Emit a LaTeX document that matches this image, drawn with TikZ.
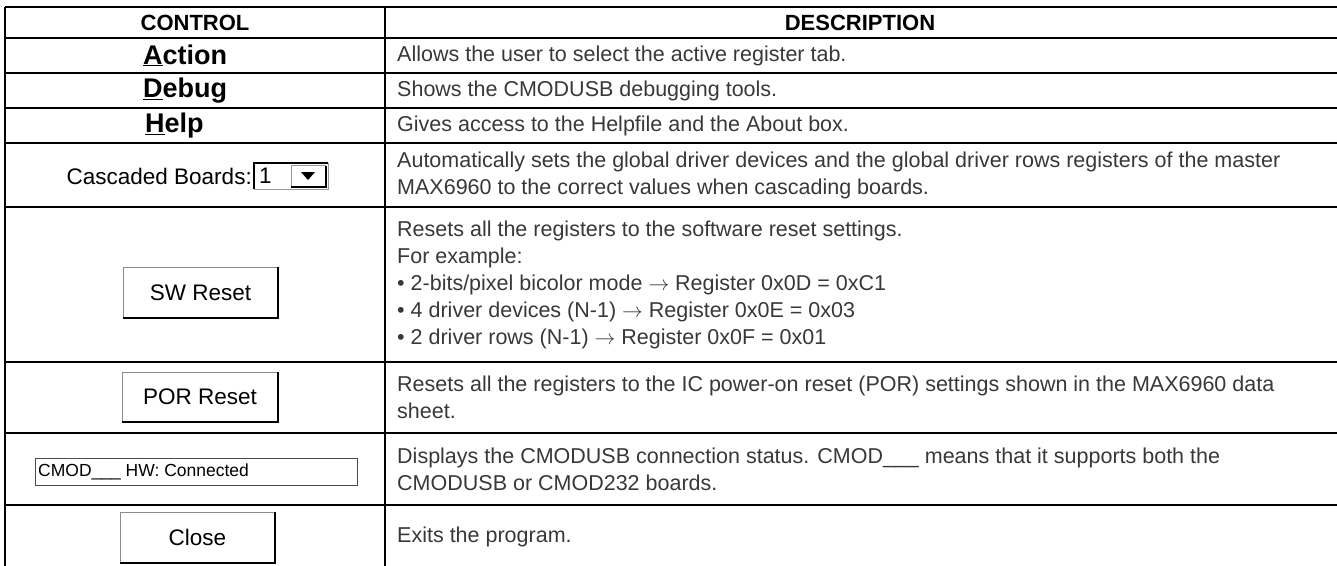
\documentclass[tikz,border=0pt]{standalone}
\usepackage{fontspec}
\setmainfont{Liberation Sans}
\usetikzlibrary{positioning}
\tikzset{
  rule/.style={line width=2.4pt},
  vrule/.style={line width=1.6pt},
  headtext/.style={font=\fontsize{22}{26}\selectfont\bfseries},
  desctext/.style={anchor=west,align=left,text=black!78,
    font=\fontsize{21.5}{27}\selectfont,inner sep=0pt},
  menutext/.style={anchor=west,inner sep=0pt,font=\fontsize{27}{30}\selectfont\bfseries},
  wintext/.style={inner sep=0pt,font=\fontsize{22.5}{26}\selectfont},
}
\newcommand{\winbutton}[5]{% x1 y1 x2 y2 label
  \fill[white] (#1,#2) rectangle (#3,#4);
  \draw[black!45,line width=1pt] (#1,#4) -- (#1,#2) -- (#3,#2);
  \draw[line width=2.2pt] (#1,#4) -- (#3,#4) -- (#3,#2);
  \node[wintext] at ({(#1+#3)/2},{(#2+#4)/2}) {#5};
}
\begin{document}
\begin{tikzpicture}[x=1pt,y=-1pt]
\useasboundingbox (0,0) rectangle (1337,565);
% grid of the table
\draw[vrule] (5,7) -- (5,566);
\draw[vrule] (385,7) -- (385,566);
\foreach \yy in {7,38,73,108,143,207,362,433,505}
  \draw[rule] (5,\yy) -- (1337,\yy);

% header
\node[headtext] (hcontrol) at (195,22.5) {CONTROL};
\node[headtext] (hdesc) at (860,22.5) {DESCRIPTION};

% menus
\node[menutext] (action) at (143,55.5) {\underline{A}ction};
\node[menutext] (debug) at (143,90.5) {\underline{D}ebug};
\node[menutext] (help) at (145,125.5) {\underline{H}elp};

% cascaded boards combo
\node[wintext,anchor=east] (cascade) at (252,176) {Cascaded Boards:};
\fill[white] (254,163) rectangle (328,189);
\draw[line width=2.2pt] (254,189) -- (254,163) -- (328,163);
\draw[black!40,line width=1pt] (254,189) -- (328,189) -- (328,163);
\node[wintext,anchor=west] (cvalue) at (259,176) {1};
\draw[black!40,line width=1pt] (291,187) -- (291,165.5) -- (326,165.5);
\draw[line width=1.8pt] (291,187) -- (326,187) -- (326,165.5);
\fill (301,172) -- (315,172) -- (308,180) -- cycle;

% buttons
\winbutton{123}{267}{278}{318}{SW Reset}
\winbutton{122}{372}{278}{422}{POR Reset}
\winbutton{120}{512}{275}{563}{Close}

% status field
\draw[black!70,line width=1pt,fill=white] (35,458) rectangle (357,485);
\node[inner sep=0pt,anchor=west,font=\fontsize{17.5}{20}\selectfont] (status) at (38,471.5)
  {CMOD\_\_\_ HW: Connected};

% descriptions
\node[desctext] (dact) at (397,55.5) {Allows the user to select the active register tab.};
\node[desctext] (ddbg) at (397,90.5) {Shows the CMODUSB debugging tools.};
\node[desctext] (dhlp) at (397,125.5) {Gives access to the Helpfile and the About box.};
\node[desctext] (dcas) at (397,175) {Automatically sets the global driver devices and the global driver rows registers of the master\\MAX6960 to the correct values when cascading boards.};
\node[desctext] (dsw) at (397,284.5) {Resets all the registers to the software reset settings.\\For example:\\%
  \textbullet\ 2-bits/pixel bicolor mode $\rightarrow$ Register 0x0D = 0xC1\\%
  \textbullet\ 4 driver devices (N-1) $\rightarrow$ Register 0x0E = 0x03\\%
  \textbullet\ 2 driver rows (N-1) $\rightarrow$ Register 0x0F = 0x01};
\node[desctext] (dpor) at (397,397.5) {Resets all the registers to the IC power-on reset (POR) settings shown in the MAX6960 data\\sheet.};
\node[desctext] (dcmod) at (397,469) {Displays the CMODUSB connection status. CMOD\_\_\_ means that it supports both the\\CMODUSB or CMOD232 boards.};
\node[desctext] (dclose) at (397,537) {Exits the program.};
\end{tikzpicture}
\end{document}
